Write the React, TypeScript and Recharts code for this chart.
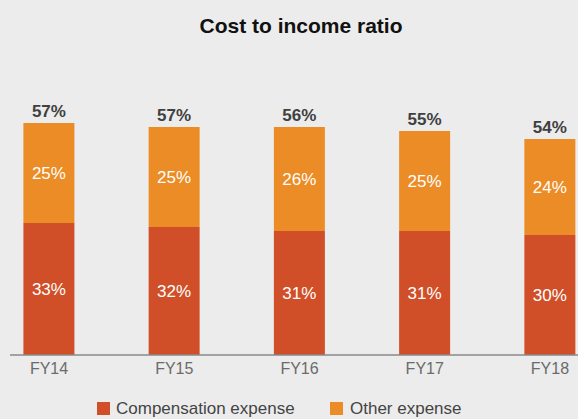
import React from "react";
import { BarChart, Bar, XAxis, YAxis, LabelList } from "recharts";

const categories = ["FY14", "FY15", "FY16", "FY17", "FY18"];
const compensation = [33, 32, 31, 31, 30];
const other = [25, 25, 26, 25, 24];
const totals = [57, 57, 56, 55, 54];

const data = categories.map((c, i) => ({
  name: c,
  comp: compensation[i],
  other: other[i],
  total: totals[i],
}));

const FONT = '"Liberation Sans", Arial, Helvetica, sans-serif';
const RED = "#D04F28";
const ORANGE = "#EB8C26";

export default function App() {
  return (
    <div
      style={{
        position: "absolute",
        left: 0,
        top: 0,
        width: 578,
        height: 419,
        background: "#ECECEC",
        overflow: "hidden",
        fontFamily: FONT,
      }}
    >
      <div
        style={{
          position: "absolute",
          left: 0,
          top: 15,
          width: 602,
          textAlign: "center",
          fontSize: 21,
          lineHeight: "21px",
          fontWeight: "bold",
          color: "#111",
        }}
      >
        Cost to income ratio
      </div>
      <BarChart
        width={578}
        height={419}
        data={data}
        margin={{ top: 35, right: 0, bottom: 34, left: 10 }}
        style={{ position: "absolute", left: 0, top: 0 }}
      >
        <XAxis
          dataKey="name"
          padding={{ left: -23.6, right: -34.6 }}
          tickLine={false}
          axisLine={{ stroke: "#8A8A8A", strokeWidth: 1.5 }}
          tick={{ fill: "#6B6B6B", fontSize: 16, fontFamily: FONT }}
          height={30}
          interval={0}
        />
        <YAxis hide domain={[0, 80]} />
        <Bar dataKey="comp" stackId="a" fill={RED} barSize={51} isAnimationActive={false}>
          <LabelList
            dataKey="comp"
            position="center"
            fill="#FFFFFF"
            fontSize={17}
            fontFamily={FONT}
            formatter={(v: any) => `${v}%`}
          />
        </Bar>
        <Bar dataKey="other" stackId="a" fill={ORANGE} barSize={51} isAnimationActive={false}>
          <LabelList
            dataKey="other"
            position="center"
            fill="#FFFFFF"
            fontSize={17}
            fontFamily={FONT}
            formatter={(v: any) => `${v}%`}
          />
          <LabelList
            dataKey="total"
            position="top"
            offset={6}
            fill="#404040"
            fontSize={17}
            fontWeight="bold"
            fontFamily={FONT}
            formatter={(v: any) => `${v}%`}
          />
        </Bar>
      </BarChart>
      <div style={{ position: "absolute", left: 97, top: 402, width: 13, height: 13, background: RED }} />
      <div
        style={{
          position: "absolute",
          left: 116,
          top: 399,
          fontSize: 17,
          lineHeight: "19px",
          color: "#444",
          whiteSpace: "nowrap",
        }}
      >
        Compensation expense
      </div>
      <div style={{ position: "absolute", left: 330, top: 402, width: 13, height: 13, background: ORANGE }} />
      <div
        style={{
          position: "absolute",
          left: 350,
          top: 399,
          fontSize: 17,
          lineHeight: "19px",
          color: "#444",
          whiteSpace: "nowrap",
        }}
      >
        Other expense
      </div>
    </div>
  );
}
